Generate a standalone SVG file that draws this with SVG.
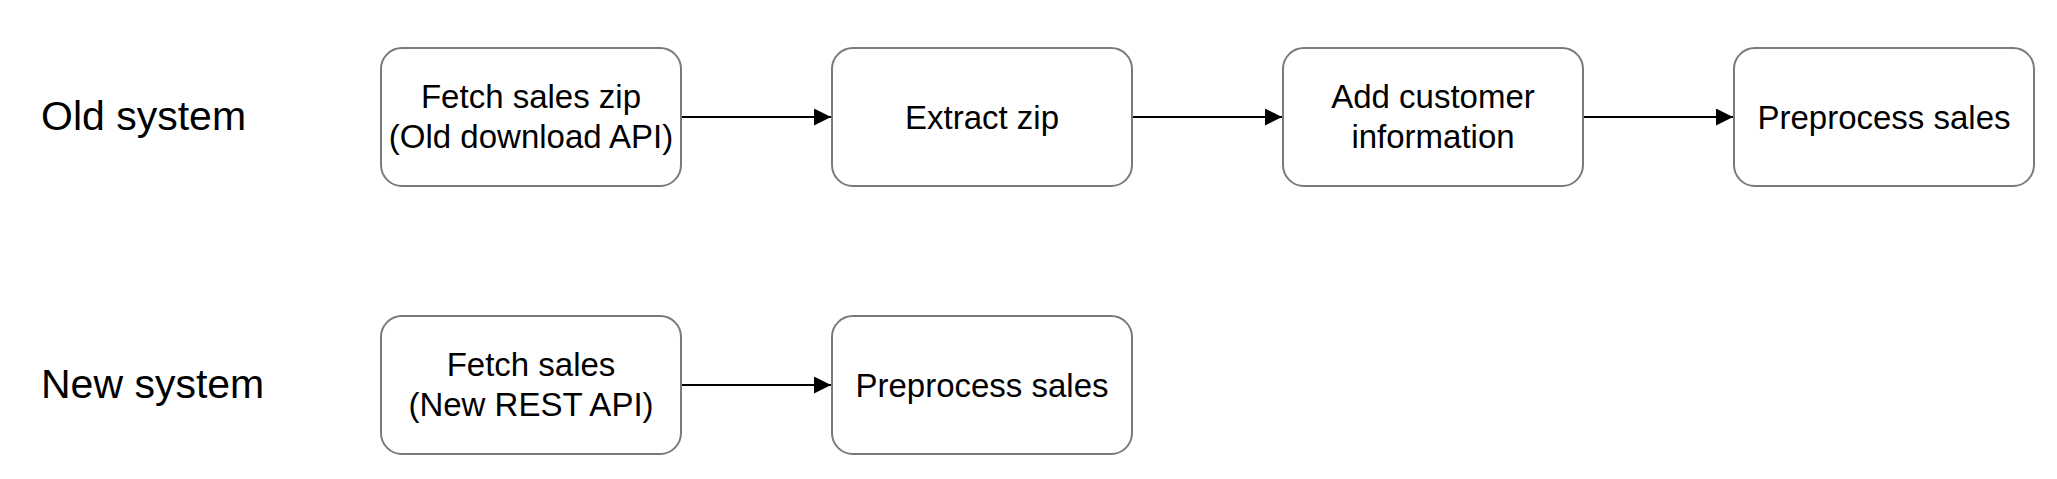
<svg xmlns="http://www.w3.org/2000/svg" width="2057" height="479" viewBox="0 0 2057 479">
  <style>
    .box { fill: #ffffff; stroke: #7a7a7a; stroke-width: 2; }
    .t { font-family: "Liberation Sans", Arial, Helvetica, sans-serif; font-size: 33px; fill: #000000; text-anchor: middle; }
    .lbl { font-family: "Liberation Sans", Arial, Helvetica, sans-serif; font-size: 41px; fill: #000000; }
    .edge { stroke: #000000; stroke-width: 2; fill: none; marker-end: url(#arrow); }
  </style>
  <defs>
    <marker id="arrow" viewBox="0 0 17 17" refX="17" refY="8.5" markerWidth="17" markerHeight="17" markerUnits="userSpaceOnUse" orient="auto">
      <path d="M0,0 L17,8.5 L0,17 Z" fill="#000000"/>
    </marker>
  </defs>
  <rect width="2057" height="479" fill="#ffffff"/>

  <g id="label-old"><text class="lbl" x="41" y="130">Old system</text></g>
  <g id="label-new"><text class="lbl" x="41" y="398">New system</text></g>

  <g id="connectors">
    <line class="edge" x1="682" y1="117" x2="831" y2="117"/>
    <line class="edge" x1="1133" y1="117" x2="1282" y2="117"/>
    <line class="edge" x1="1584" y1="117" x2="1733" y2="117"/>
    <line class="edge" x1="682" y1="385" x2="831" y2="385"/>
  </g>

  <g id="fetch-sales-zip">
    <rect class="box" x="381" y="48" width="300" height="138" rx="21" ry="21"/>
    <text class="t" x="531" y="108">Fetch sales zip</text>
    <text class="t" x="531" y="148">(Old download API)</text>
  </g>
  <g id="extract-zip">
    <rect class="box" x="832" y="48" width="300" height="138" rx="21" ry="21"/>
    <text class="t" x="982" y="128.5">Extract zip</text>
  </g>
  <g id="add-customer-info">
    <rect class="box" x="1283" y="48" width="300" height="138" rx="21" ry="21"/>
    <text class="t" x="1433" y="108">Add customer</text>
    <text class="t" x="1433" y="148">information</text>
  </g>
  <g id="preprocess-sales-old">
    <rect class="box" x="1734" y="48" width="300" height="138" rx="21" ry="21"/>
    <text class="t" x="1884" y="128.5">Preprocess sales</text>
  </g>

  <g id="fetch-sales-new">
    <rect class="box" x="381" y="316" width="300" height="138" rx="21" ry="21"/>
    <text class="t" x="531" y="376">Fetch sales</text>
    <text class="t" x="531" y="416">(New REST API)</text>
  </g>
  <g id="preprocess-sales-new">
    <rect class="box" x="832" y="316" width="300" height="138" rx="21" ry="21"/>
    <text class="t" x="982" y="396.5">Preprocess sales</text>
  </g>
</svg>
